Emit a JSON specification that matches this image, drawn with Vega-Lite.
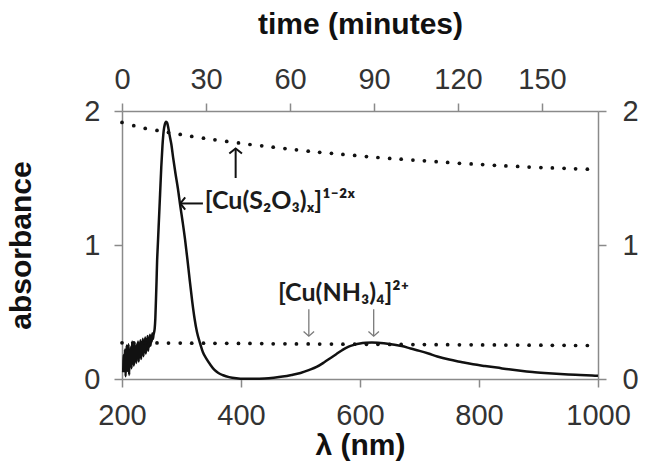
{
  "$schema": "https://vega.github.io/schema/vega-lite/v6.json",
  "width": 476,
  "height": 268,
  "autosize": {"type": "none"},
  "padding": {"left": 122, "top": 111, "right": 49, "bottom": 93},
  "background": "white",
  "config": {
    "view": {"stroke": null},
    "axis": {
      "grid": false,
      "domainColor": "#8a8a8a",
      "domainWidth": 1.5,
      "tickColor": "#8a8a8a",
      "tickWidth": 1.5,
      "tickSize": 8,
      "labelFont": "Liberation Sans",
      "labelFontSize": 29,
      "labelColor": "#333333",
      "labelFlush": false,
      "labelOverlap": false,
      "titleFont": "Liberation Sans",
      "titleFontSize": 30,
      "titleFontWeight": "bold",
      "titleColor": "#111111",
      "format": "d"
    }
  },
  "datasets": {
    "spectrum": [
      {"lam": 202, "abs": 0.05}, {"lam": 203, "abs": 0.18}, {"lam": 204, "abs": 0.08}, {"lam": 205, "abs": 0.22},
      {"lam": 206, "abs": 0.02}, {"lam": 207, "abs": 0.15}, {"lam": 208, "abs": 0.25}, {"lam": 209, "abs": 0.06},
      {"lam": 210, "abs": 0.12}, {"lam": 211, "abs": 0.26}, {"lam": 212, "abs": 0.03}, {"lam": 213, "abs": 0.2},
      {"lam": 214, "abs": 0.1}, {"lam": 215, "abs": 0.24}, {"lam": 216, "abs": 0.08}, {"lam": 217, "abs": 0.28},
      {"lam": 218, "abs": 0.12}, {"lam": 219, "abs": 0.2}, {"lam": 220, "abs": 0.1}, {"lam": 221, "abs": 0.27},
      {"lam": 222, "abs": 0.14}, {"lam": 223, "abs": 0.22}, {"lam": 224, "abs": 0.12}, {"lam": 225, "abs": 0.26},
      {"lam": 226, "abs": 0.16}, {"lam": 227, "abs": 0.28}, {"lam": 228, "abs": 0.13}, {"lam": 229, "abs": 0.24},
      {"lam": 230, "abs": 0.17}, {"lam": 231, "abs": 0.29}, {"lam": 232, "abs": 0.15}, {"lam": 233, "abs": 0.25},
      {"lam": 234, "abs": 0.19}, {"lam": 235, "abs": 0.3}, {"lam": 236, "abs": 0.17}, {"lam": 237, "abs": 0.27},
      {"lam": 238, "abs": 0.2}, {"lam": 239, "abs": 0.31}, {"lam": 240, "abs": 0.19}, {"lam": 241, "abs": 0.28},
      {"lam": 242, "abs": 0.22}, {"lam": 243, "abs": 0.32}, {"lam": 244, "abs": 0.21}, {"lam": 245, "abs": 0.3},
      {"lam": 246, "abs": 0.24}, {"lam": 247, "abs": 0.33}, {"lam": 248, "abs": 0.25}, {"lam": 249, "abs": 0.31},
      {"lam": 250, "abs": 0.28}, {"lam": 251, "abs": 0.34}, {"lam": 252, "abs": 0.3}, {"lam": 253, "abs": 0.33},
      {"lam": 254, "abs": 0.35}, {"lam": 255, "abs": 0.38}, {"lam": 256, "abs": 0.45}, {"lam": 257, "abs": 0.58},
      {"lam": 258, "abs": 0.72}, {"lam": 259, "abs": 0.88}, {"lam": 260, "abs": 0.98}, {"lam": 261, "abs": 1.08},
      {"lam": 262, "abs": 1.18}, {"lam": 264, "abs": 1.38}, {"lam": 266, "abs": 1.58}, {"lam": 268, "abs": 1.74},
      {"lam": 270, "abs": 1.85}, {"lam": 272, "abs": 1.9}, {"lam": 274, "abs": 1.92}, {"lam": 276, "abs": 1.91},
      {"lam": 278, "abs": 1.87}, {"lam": 280, "abs": 1.82}, {"lam": 283, "abs": 1.75}, {"lam": 286, "abs": 1.65},
      {"lam": 290, "abs": 1.53}, {"lam": 294, "abs": 1.42}, {"lam": 298, "abs": 1.29}, {"lam": 302, "abs": 1.17},
      {"lam": 306, "abs": 1.04}, {"lam": 310, "abs": 0.89}, {"lam": 314, "abs": 0.73}, {"lam": 318, "abs": 0.58},
      {"lam": 322, "abs": 0.45}, {"lam": 326, "abs": 0.35}, {"lam": 331, "abs": 0.27}, {"lam": 336, "abs": 0.2},
      {"lam": 342, "abs": 0.15}, {"lam": 348, "abs": 0.11}, {"lam": 355, "abs": 0.07}, {"lam": 362, "abs": 0.045},
      {"lam": 370, "abs": 0.028}, {"lam": 380, "abs": 0.014}, {"lam": 392, "abs": 0.005}, {"lam": 405, "abs": 0.001},
      {"lam": 420, "abs": 0.001}, {"lam": 440, "abs": 0.004}, {"lam": 455, "abs": 0.01}, {"lam": 470, "abs": 0.018},
      {"lam": 485, "abs": 0.03}, {"lam": 500, "abs": 0.045}, {"lam": 515, "abs": 0.068}, {"lam": 527, "abs": 0.09},
      {"lam": 540, "abs": 0.125}, {"lam": 550, "abs": 0.155}, {"lam": 560, "abs": 0.185}, {"lam": 570, "abs": 0.215},
      {"lam": 580, "abs": 0.24}, {"lam": 590, "abs": 0.255}, {"lam": 600, "abs": 0.265}, {"lam": 610, "abs": 0.27},
      {"lam": 620, "abs": 0.272}, {"lam": 630, "abs": 0.27}, {"lam": 640, "abs": 0.266}, {"lam": 655, "abs": 0.257},
      {"lam": 670, "abs": 0.246}, {"lam": 685, "abs": 0.228}, {"lam": 700, "abs": 0.21}, {"lam": 715, "abs": 0.19},
      {"lam": 730, "abs": 0.168}, {"lam": 750, "abs": 0.145}, {"lam": 770, "abs": 0.127}, {"lam": 790, "abs": 0.11},
      {"lam": 810, "abs": 0.097}, {"lam": 830, "abs": 0.085}, {"lam": 850, "abs": 0.072}, {"lam": 870, "abs": 0.061},
      {"lam": 890, "abs": 0.052}, {"lam": 910, "abs": 0.045}, {"lam": 930, "abs": 0.039}, {"lam": 950, "abs": 0.034},
      {"lam": 970, "abs": 0.03}, {"lam": 990, "abs": 0.026}, {"lam": 1000, "abs": 0.024}
    ],
    "kinetics": [
      {"t": 0, "abs": 1.915, "band": "upper"}, {"t": 4.2, "abs": 1.89, "band": "upper"}, {"t": 8.3, "abs": 1.87, "band": "upper"},
      {"t": 12.5, "abs": 1.855, "band": "upper"}, {"t": 16.6, "abs": 1.84, "band": "upper"}, {"t": 20.8, "abs": 1.825, "band": "upper"},
      {"t": 24.9, "abs": 1.81, "band": "upper"}, {"t": 29.1, "abs": 1.797, "band": "upper"}, {"t": 33.2, "abs": 1.785, "band": "upper"},
      {"t": 37.4, "abs": 1.773, "band": "upper"}, {"t": 41.6, "abs": 1.762, "band": "upper"}, {"t": 45.7, "abs": 1.75, "band": "upper"},
      {"t": 49.9, "abs": 1.74, "band": "upper"}, {"t": 54.0, "abs": 1.73, "band": "upper"}, {"t": 58.2, "abs": 1.72, "band": "upper"},
      {"t": 62.3, "abs": 1.71, "band": "upper"}, {"t": 66.5, "abs": 1.7, "band": "upper"}, {"t": 70.6, "abs": 1.692, "band": "upper"},
      {"t": 74.8, "abs": 1.684, "band": "upper"}, {"t": 78.9, "abs": 1.676, "band": "upper"}, {"t": 83.1, "abs": 1.668, "band": "upper"},
      {"t": 87.3, "abs": 1.66, "band": "upper"}, {"t": 91.4, "abs": 1.653, "band": "upper"}, {"t": 95.6, "abs": 1.646, "band": "upper"},
      {"t": 99.7, "abs": 1.64, "band": "upper"}, {"t": 103.9, "abs": 1.634, "band": "upper"}, {"t": 108.0, "abs": 1.628, "band": "upper"},
      {"t": 112.2, "abs": 1.622, "band": "upper"}, {"t": 116.3, "abs": 1.616, "band": "upper"}, {"t": 120.5, "abs": 1.61, "band": "upper"},
      {"t": 124.7, "abs": 1.605, "band": "upper"}, {"t": 128.8, "abs": 1.6, "band": "upper"}, {"t": 133.0, "abs": 1.595, "band": "upper"},
      {"t": 137.1, "abs": 1.59, "band": "upper"}, {"t": 141.3, "abs": 1.586, "band": "upper"}, {"t": 145.4, "abs": 1.582, "band": "upper"},
      {"t": 149.6, "abs": 1.578, "band": "upper"}, {"t": 153.7, "abs": 1.575, "band": "upper"}, {"t": 157.9, "abs": 1.572, "band": "upper"},
      {"t": 162.0, "abs": 1.569, "band": "upper"}, {"t": 166.2, "abs": 1.566, "band": "upper"},
      {"t": 0, "abs": 0.27, "band": "lower"}, {"t": 4.2, "abs": 0.27, "band": "lower"}, {"t": 8.3, "abs": 0.269, "band": "lower"},
      {"t": 12.5, "abs": 0.269, "band": "lower"}, {"t": 16.6, "abs": 0.268, "band": "lower"}, {"t": 20.8, "abs": 0.268, "band": "lower"},
      {"t": 24.9, "abs": 0.267, "band": "lower"}, {"t": 29.1, "abs": 0.267, "band": "lower"}, {"t": 33.2, "abs": 0.266, "band": "lower"},
      {"t": 37.4, "abs": 0.266, "band": "lower"}, {"t": 41.6, "abs": 0.265, "band": "lower"}, {"t": 45.7, "abs": 0.265, "band": "lower"},
      {"t": 49.9, "abs": 0.264, "band": "lower"}, {"t": 54.0, "abs": 0.263, "band": "lower"}, {"t": 58.2, "abs": 0.263, "band": "lower"},
      {"t": 62.3, "abs": 0.262, "band": "lower"}, {"t": 66.5, "abs": 0.262, "band": "lower"}, {"t": 70.6, "abs": 0.261, "band": "lower"},
      {"t": 74.8, "abs": 0.261, "band": "lower"}, {"t": 78.9, "abs": 0.26, "band": "lower"}, {"t": 83.1, "abs": 0.26, "band": "lower"},
      {"t": 87.3, "abs": 0.259, "band": "lower"}, {"t": 91.4, "abs": 0.259, "band": "lower"}, {"t": 95.6, "abs": 0.258, "band": "lower"},
      {"t": 99.7, "abs": 0.258, "band": "lower"}, {"t": 103.9, "abs": 0.257, "band": "lower"}, {"t": 108.0, "abs": 0.257, "band": "lower"},
      {"t": 112.2, "abs": 0.256, "band": "lower"}, {"t": 116.3, "abs": 0.256, "band": "lower"}, {"t": 120.5, "abs": 0.255, "band": "lower"},
      {"t": 124.7, "abs": 0.255, "band": "lower"}, {"t": 128.8, "abs": 0.254, "band": "lower"}, {"t": 133.0, "abs": 0.254, "band": "lower"},
      {"t": 137.1, "abs": 0.253, "band": "lower"}, {"t": 141.3, "abs": 0.253, "band": "lower"}, {"t": 145.4, "abs": 0.252, "band": "lower"},
      {"t": 149.6, "abs": 0.252, "band": "lower"}, {"t": 153.7, "abs": 0.251, "band": "lower"}, {"t": 157.9, "abs": 0.251, "band": "lower"},
      {"t": 162.0, "abs": 0.25, "band": "lower"}, {"t": 166.2, "abs": 0.25, "band": "lower"}
    ],
    "labels": [
      {"lam": 339, "abs": 1.33, "label": "[Cu(S₂O₃)ₓ]¹⁻²ˣ"},
      {"lam": 462, "abs": 0.64, "label": "[Cu(NH₃)₄]²⁺"}
    ],
    "arrows": [
      {"lam": 336, "lam2": 298, "abs": 1.31, "abs2": 1.31, "c": "#111111", "w": 2},
      {"lam": 391, "lam2": 391, "abs": 1.5, "abs2": 1.72, "c": "#111111", "w": 2},
      {"lam": 514, "lam2": 514, "abs": 0.52, "abs2": 0.32, "c": "#7a7a7a", "w": 1.3},
      {"lam": 623, "lam2": 623, "abs": 0.52, "abs2": 0.32, "c": "#7a7a7a", "w": 1.3}
    ],
    "heads": [
      {"lam": 298, "abs": 1.31, "shape": "M0.8,-1L0,0L0.8,1", "c": "#111111", "w": 2, "s": 150},
      {"lam": 391, "abs": 1.72, "shape": "M-1,0.8L0,0L1,0.8", "c": "#111111", "w": 2, "s": 160},
      {"lam": 514, "abs": 0.32, "shape": "M-1,-0.9L0,0L1,-0.9", "c": "#7a7a7a", "w": 1.3, "s": 110},
      {"lam": 623, "abs": 0.32, "shape": "M-1,-0.9L0,0L1,-0.9", "c": "#7a7a7a", "w": 1.3, "s": 110}
    ]
  },
  "layer": [
    {
      "encoding": {
        "x": {"field": "lam", "type": "quantitative", "scale": {"domain": [200, 1000]},
          "axis": {"orient": "bottom", "title": "λ (nm)", "values": [200, 400, 600, 800, 1000], "labelPadding": 14, "titlePadding": 0}},
        "y": {"field": "abs", "type": "quantitative", "scale": {"domain": [0, 2]},
          "axis": {"orient": "left", "title": "absorbance", "values": [0, 1, 2], "labelPadding": 14, "titlePadding": 47}}
      },
      "layer": [
        {
          "data": {"name": "spectrum"},
          "mark": {"type": "line", "color": "#111111", "strokeWidth": 2.5, "interpolate": "monotone"}
        },
        {
          "data": {"name": "arrows"},
          "mark": {"type": "rule"},
          "encoding": {
            "x2": {"field": "lam2"},
            "y2": {"field": "abs2"},
            "color": {"field": "c", "type": "nominal", "scale": null},
            "strokeWidth": {"field": "w", "type": "quantitative", "scale": null}
          }
        },
        {
          "data": {"name": "heads"},
          "mark": {"type": "point", "filled": false, "opacity": 1},
          "encoding": {
            "shape": {"field": "shape", "type": "nominal", "scale": null},
            "color": {"field": "c", "type": "nominal", "scale": null},
            "strokeWidth": {"field": "w", "type": "quantitative", "scale": null},
            "size": {"field": "s", "type": "quantitative", "scale": null}
          }
        },
        {
          "data": {"name": "labels"},
          "mark": {"type": "text", "align": "left", "baseline": "middle", "font": "Lato", "fontWeight": "bold", "fontSize": 25, "color": "#1c1c1c"},
          "encoding": {
            "text": {"field": "label", "type": "nominal"}
          }
        }
      ]
    },
    {
      "data": {"name": "kinetics"},
      "mark": {"type": "point", "filled": true, "size": 14, "color": "#111111", "opacity": 1},
      "encoding": {
        "x": {"field": "t", "type": "quantitative", "scale": {"domain": [0, 170]},
          "axis": {"orient": "top", "title": "time (minutes)", "values": [0, 30, 60, 90, 120, 150], "labelPadding": 9, "titlePadding": 26}},
        "y": {"field": "abs", "type": "quantitative", "scale": {"domain": [0, 2]},
          "axis": {"orient": "right", "title": null, "values": [0, 1, 2], "labelPadding": 16}},
        "detail": {"field": "band", "type": "nominal"}
      }
    }
  ],
  "resolve": {"scale": {"x": "independent", "y": "independent"}}
}
